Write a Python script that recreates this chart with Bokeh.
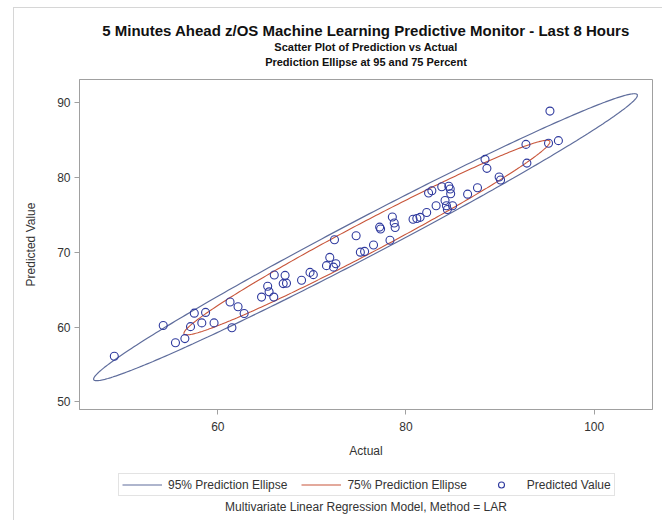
import numpy as np
from bokeh.plotting import figure
from bokeh.layouts import column
from bokeh.models import Range1d, Label, Legend, LegendItem, FixedTicker
from bokeh.embed import file_html
from bokeh.resources import INLINE

# Actual vs predicted values over the last 8 hours
actual = [49.0, 54.2, 55.5, 56.5, 57.1, 57.5, 58.3, 58.7, 59.6, 61.3, 61.5, 62.15,
          62.8, 64.65, 65.3, 65.45, 65.95, 66.0, 66.95, 67.15, 67.3, 68.9, 69.8,
          70.15, 71.55, 71.9, 72.3, 72.55, 72.4, 74.7, 75.15, 75.6, 76.55, 77.2,
          77.3, 78.3, 78.55, 78.75, 78.85, 80.75, 81.15, 81.5, 82.2, 82.4, 82.75,
          83.2, 83.8, 84.15, 84.3, 84.4, 84.55, 84.7, 84.75, 84.95, 86.55, 87.6,
          88.4, 88.6, 89.9, 90.05, 92.75, 92.85, 95.15, 95.3, 96.2]
predicted = [56.1, 60.2, 57.9, 58.45, 60.05, 61.85, 60.55, 61.95, 60.55, 63.35, 59.9,
             62.7, 61.8, 64.0, 65.45, 64.7, 64.0, 66.95, 65.8, 66.9, 65.85, 66.25,
             67.3, 67.0, 68.2, 69.3, 68.0, 68.45, 71.65, 72.2, 70.0, 70.1, 70.95,
             73.35, 73.1, 71.6, 74.7, 73.9, 73.3, 74.4, 74.5, 74.65, 75.3, 77.9,
             78.2, 76.2, 78.75, 76.9, 76.2, 75.7, 78.8, 78.45, 77.8, 76.2, 77.75,
             78.6, 82.4, 81.2, 80.05, 79.65, 84.4, 81.9, 84.55, 88.85, 84.9]

# Prediction ellipses: centre, half extents along x and y, and the phase lag
# between the x and y cosines that sets the ellipse's thickness
ellipse_levels = [95, 75]
ellipse_cx = [75.7, 75.85]
ellipse_cy = [72.0, 71.95]
ellipse_x_half = [28.9, 19.45]
ellipse_y_half = [19.17, 13.0]
ellipse_phase = [0.15, 0.18]

x_ticks = [60, 80, 100]
y_ticks = [50, 60, 70, 80, 90]

title_lines = ["5 Minutes Ahead z/OS Machine Learning Predictive Monitor - Last 8 Hours",
               "Scatter Plot of Prediction vs Actual",
               "Prediction Ellipse at 95 and 75 Percent"]
footnote = "Multivariate Linear Regression Model, Method = LAR"

FONT = "Liberation Sans"
TEXT = "#333333"
W = 662
FRAME_L, FRAME_R = 79, 652   # plot frame edges in page pixels


def ellipse_path(cx, cy, ax, ay, phase, npts=360):
    t = np.linspace(0, 2 * np.pi, npts)
    return cx + ax * np.cos(t), cy + ay * np.cos(t - phase)


def blank_strip(height):
    """A plain strip; the column aligns its frame with the plot frame, so
    x data units are page pixels and y runs 0..height from the bottom."""
    f = figure(width=W, height=height,
               x_range=Range1d(FRAME_L, FRAME_R), y_range=Range1d(0, height),
               output_backend="svg", toolbar_location=None,
               x_axis_location=None, y_axis_location=None,
               min_border_left=FRAME_L, min_border_right=W - FRAME_R,
               min_border_top=0, min_border_bottom=0,
               outline_line_color=None,
               background_fill_alpha=0, border_fill_alpha=0)
    f.grid.visible = False
    return f


# ---- title strip -------------------------------------------------------
TOP_H = 74
top = blank_strip(TOP_H)
for text, y_mid, size in zip(title_lines, [30, 46, 61], ["15px", "11px", "11px"]):
    top.add_layout(Label(x=365.5, y=TOP_H - y_mid, text=text,
                         text_align="center", text_baseline="middle",
                         text_font=FONT, text_font_size=size,
                         text_font_style="bold", text_color="#111111"))

# ---- main scatter plot -------------------------------------------------
MAIN_H = 391
p = figure(width=W, height=MAIN_H,
           x_range=Range1d(45.3, 106.2), y_range=Range1d(48.98, 93.07),
           output_backend="svg", toolbar_location=None,
           min_border_left=FRAME_L, min_border_right=W - FRAME_R,
           min_border_top=5, min_border_bottom=56,
           background_fill_alpha=0, border_fill_alpha=0,
           outline_line_color="#a0a0a0")
p.grid.visible = False

for ax, ticks, label in ((p.xaxis[0], x_ticks, "Actual"),
                         (p.yaxis[0], y_ticks, "Predicted Value")):
    ax.ticker = FixedTicker(ticks=ticks)
    ax.axis_label = label
    ax.axis_line_color = "#a0a0a0"
    ax.major_tick_line_color = "#a0a0a0"
    ax.major_tick_in = 0
    ax.major_tick_out = 5
    ax.minor_tick_line_color = None
    ax.major_label_text_font = FONT
    ax.major_label_text_font_size = "12px"
    ax.major_label_text_color = TEXT
    ax.axis_label_text_font = FONT
    ax.axis_label_text_font_size = "12px"
    ax.axis_label_text_font_style = "normal"
    ax.axis_label_text_color = TEXT

p.xaxis.major_label_standoff = 7
p.xaxis.axis_label_standoff = 10
p.yaxis.major_label_standoff = 4
p.yaxis.axis_label_standoff = 16

ellipse_styles = [("#5f6d9c", 1.2), ("#c8553a", 1.1)]
for i, (color, width) in enumerate(ellipse_styles):
    ex, ey = ellipse_path(ellipse_cx[i], ellipse_cy[i], ellipse_x_half[i],
                          ellipse_y_half[i], ellipse_phase[i])
    p.line(ex, ey, line_color=color, line_width=width)

MARKER = dict(marker="circle", size=8, fill_color=None, line_color="#2f3a9e", line_width=1.1)
p.scatter(actual, predicted, **MARKER)

# ---- legend and footnote strip ----------------------------------------
BOT_H = 55
bot = blank_strip(BOT_H)
nan = [np.nan]
key95 = bot.line(nan, nan, line_color=ellipse_styles[0][0], line_width=ellipse_styles[0][1])
key75 = bot.line(nan, nan, line_color=ellipse_styles[1][0], line_width=ellipse_styles[1][1])
keypt = bot.scatter(nan, nan, **MARKER)
legend = Legend(items=[
    LegendItem(label=f"{ellipse_levels[0]}% Prediction Ellipse", renderers=[key95]),
    LegendItem(label=f"{ellipse_levels[1]}% Prediction Ellipse", renderers=[key75]),
    LegendItem(label="Predicted Value", renderers=[keypt]),
], orientation="horizontal", location=(118 - FRAME_L, 24),
    glyph_width=40, glyph_height=15, label_standoff=6, spacing=14,
    padding=3, margin=0, label_text_font=FONT, label_text_font_size="12px",
    label_text_color=TEXT, border_line_color="#c8c8c8",
    background_fill_alpha=0)
bot.add_layout(legend, "center")
bot.add_layout(Label(x=365.5, y=BOT_H - 41, text=footnote,
                     text_align="center", text_baseline="middle",
                     text_font=FONT, text_font_size="12px", text_color=TEXT))

# Light page border running along the left and top of the graph image
EDGE = "linear-gradient(#d6d6d6, #d6d6d6)"
layout = column(top, p, bot, spacing=0, styles={
    "background-color": "white",
    "background-image": f"{EDGE}, {EDGE}",
    "background-position": "13px 7px, 13px 7px",
    "background-size": "1px 100%, 100% 1px",
    "background-repeat": "no-repeat",
})
open("out.html", "w").write(file_html(layout, INLINE))
